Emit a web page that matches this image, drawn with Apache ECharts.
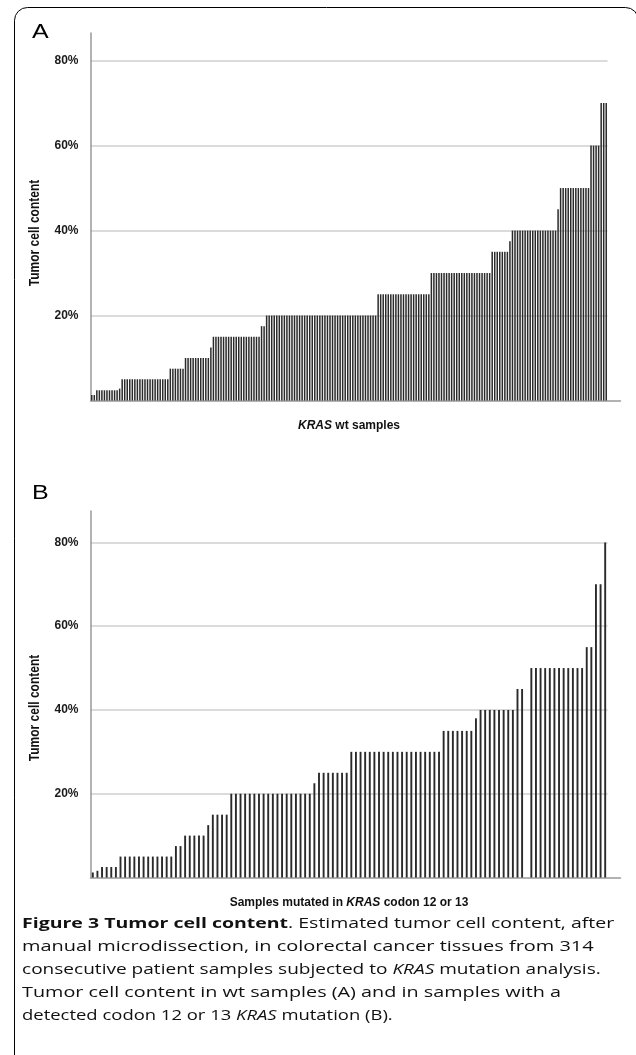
<!DOCTYPE html>
<html>
<head>
<meta charset="utf-8">
<script src="https://cdn.jsdelivr.net/npm/echarts@6/dist/echarts.min.js"></script>
<style>
html,body{margin:0;padding:0;background:#fff;}
#chart{width:636px;height:1055px;}
</style>
</head>
<body>
<div id="chart"></div>
<script>
// Panel A: tumor cell content (%) of KRAS wild-type samples, sorted ascending
const wtValues = [
  1.3, 1.3,
  2.4, 2.4, 2.4, 2.4, 2.4, 2.4, 2.4, 2.4, 2.4, 2.8,
  5, 5, 5, 5, 5, 5, 5, 5, 5, 5,
  5, 5, 5, 5, 5, 5, 5, 5, 5,
  7.5, 7.5, 7.5, 7.5, 7.5, 7.5,
  10, 10, 10, 10, 10, 10, 10, 10, 10, 10,
  12.5,
  15, 15, 15, 15, 15, 15, 15, 15, 15, 15,
  15, 15, 15, 15, 15, 15, 15, 15, 15,
  17.5, 17.5,
  20, 20, 20, 20, 20, 20, 20, 20, 20, 20,
  20, 20, 20, 20, 20, 20, 20, 20, 20, 20,
  20, 20, 20, 20, 20, 20, 20, 20, 20, 20,
  20, 20, 20, 20, 20, 20, 20, 20, 20, 20,
  20, 20, 20, 20,
  25, 25, 25, 25, 25, 25, 25, 25, 25, 25,
  25, 25, 25, 25, 25, 25, 25, 25, 25, 25,
  25,
  30, 30, 30, 30, 30, 30, 30, 30, 30, 30,
  30, 30, 30, 30, 30, 30, 30, 30, 30, 30,
  30, 30, 30, 30,
  35, 35, 35, 35, 35, 35, 35,
  37.5,
  40, 40, 40, 40, 40, 40, 40, 40, 40, 40,
  40, 40, 40, 40, 40, 40, 40, 40,
  45,
  50, 50, 50, 50, 50, 50, 50, 50, 50, 50,
  50, 50,
  60, 60, 60, 60,
  70, 70, 70
];

// Panel B: tumor cell content (%) of KRAS codon 12/13 mutated samples, sorted ascending
const mutValues = [
  1.2, 1.6,
  2.5, 2.5, 2.5, 2.5,
  5, 5, 5, 5, 5, 5, 5, 5, 5, 5, 5, 5,
  7.5, 7.5,
  10, 10, 10, 10, 10,
  12.5,
  15, 15, 15, 15,
  20, 20, 20, 20, 20, 20, 20, 20, 20, 20,
  20, 20, 20, 20, 20, 20, 20, 20,
  22.5,
  25, 25, 25, 25, 25, 25, 25,
  30, 30, 30, 30, 30, 30, 30, 30, 30, 30,
  30, 30, 30, 30, 30, 30, 30, 30, 30, 30,
  35, 35, 35, 35, 35, 35, 35,
  38,
  40, 40, 40, 40, 40, 40, 40, 40,
  45, 45,
  0,
  50, 50, 50, 50, 50, 50, 50, 50, 50, 50,
  50, 50,
  55, 55,
  70, 70,
  80
];

const wtCategories = wtValues.map((v, i) => 'wt ' + (i + 1));
const mutCategories = mutValues.map((v, i) => 'mut ' + (i + 1));
const yTickValues = [20, 40, 60, 80];

const panelLetters = ['A', 'B'];
const yTitle = 'Tumor cell content';
const xTitleA = '{i|KRAS} wt samples';
const xTitleB = 'Samples mutated in {i|KRAS} codon 12 or 13';
const captionLines = [
  '{b|Figure 3 Tumor cell content}. Estimated tumor cell content, after',
  'manual microdissection, in colorectal cancer tissues from 314',
  'consecutive patient samples subjected to {i|KRAS} mutation analysis.',
  'Tumor cell content in wt samples (A) and in samples with a',
  'detected codon 12 or 13 {i|KRAS} mutation (B).'
];
const captionStretch = [1.30, 1.33, 1.27, 1.32, 1.23];

const AX = '#999999';
const GRID = '#cfcfcf';
const BAR = '#2a2a2a';
const FONT = '"Liberation Sans", Arial, sans-serif';
const CAPFONT = '"Open Sans", "Noto Sans", sans-serif';

function yAxisMain(gridIndex, max) {
  return {
    gridIndex: gridIndex, type: 'value', min: 0, max: max, interval: 20,
    axisLine: {show: true, lineStyle: {color: AX, width: 1.5}},
    axisTick: {show: false},
    axisLabel: {
      show: true, margin: 12, color: '#1a1a1a', fontFamily: FONT, fontWeight: 'bold', fontSize: 12,
      showMinLabel: false, showMaxLabel: false,
      formatter: function (v) { return yTickValues.indexOf(v) >= 0 ? v + '%' : ''; }
    },
    splitLine: {show: true, showMinLine: false, showMaxLine: false, lineStyle: {color: GRID, width: 1.5}}
  };
}
function yAxisHidden(gridIndex, max) {
  return {gridIndex: gridIndex, type: 'value', min: 0, max: max, show: false, splitLine: {show: false}};
}
const nameStyle = {
  fontFamily: FONT, fontWeight: 'bold', fontSize: 12, color: '#111',
  rich: {i: {fontFamily: FONT, fontWeight: 'bold', fontStyle: 'italic', fontSize: 12, color: '#111'}}
};

const chart = echarts.init(document.getElementById('chart'), null, {renderer: 'canvas'});

const graphics = [
  {type: 'rect', silent: true, shape: {x: 14.5, y: 7.5, width: 624, height: 1200, r: 13},
   style: {fill: 'none', stroke: '#000', lineWidth: 1}},
  {type: 'text', silent: true, x: 32, y: 32, scaleX: 1.25,
   style: {text: panelLetters[0], font: '20px ' + FONT, fill: '#000', verticalAlign: 'middle', align: 'left'}},
  {type: 'text', silent: true, x: 32, y: 493, scaleX: 1.25,
   style: {text: panelLetters[1], font: '20px ' + FONT, fill: '#000', verticalAlign: 'middle', align: 'left'}},
  {type: 'text', silent: true, x: 35, y: 233, rotation: Math.PI / 2, scaleY: 1.2,
   style: {text: yTitle, font: 'bold 12px ' + FONT, fill: '#111', align: 'center', verticalAlign: 'middle'}},
  {type: 'text', silent: true, x: 35, y: 708, rotation: Math.PI / 2, scaleY: 1.2,
   style: {text: yTitle, font: 'bold 12px ' + FONT, fill: '#111', align: 'center', verticalAlign: 'middle'}}
];
captionLines.forEach(function (line, k) {
  graphics.push({
    type: 'text', silent: true, x: 22, y: 924 + k * 23, scaleX: captionStretch[k],
    style: {
      text: line, fontFamily: CAPFONT, fontSize: 15, fill: '#111', align: 'left', verticalAlign: 'middle',
      rich: {
        b: {fontFamily: CAPFONT, fontSize: 15, fontWeight: 'bold', fill: '#111'},
        i: {fontFamily: CAPFONT, fontSize: 15, fontStyle: 'italic', fill: '#111'}
      }
    }
  });
});

chart.setOption({
  animation: false,
  backgroundColor: '#fff',
  grid: [
    {left: 90.5, top: 33, width: 517, height: 367.5},
    {left: 90.5, top: 33, width: 530, height: 367.5},
    {left: 90.5, top: 511, width: 517, height: 366.5},
    {left: 90.5, top: 511, width: 530, height: 366.5}
  ],
  xAxis: [
    {gridIndex: 0, type: 'category', data: wtCategories,
     axisLine: {show: false}, axisTick: {show: false}, axisLabel: {show: false},
     name: xTitleA, nameLocation: 'middle', nameGap: 19, nameTextStyle: nameStyle},
    {gridIndex: 1, type: 'category', data: [''],
     axisLine: {show: true, lineStyle: {color: AX, width: 1.5}}, axisTick: {show: false}, axisLabel: {show: false}},
    {gridIndex: 2, type: 'category', data: mutCategories,
     axisLine: {show: false}, axisTick: {show: false}, axisLabel: {show: false},
     name: xTitleB, nameLocation: 'middle', nameGap: 19, nameTextStyle: nameStyle},
    {gridIndex: 3, type: 'category', data: [''],
     axisLine: {show: true, lineStyle: {color: AX, width: 1.5}}, axisTick: {show: false}, axisLabel: {show: false}}
  ],
  yAxis: [
    yAxisMain(0, 86.5),
    yAxisHidden(1, 86.5),
    yAxisMain(2, 87.5),
    yAxisHidden(3, 87.5)
  ],
  series: [
    {type: 'bar', xAxisIndex: 0, yAxisIndex: 0, data: wtValues, barWidth: 1.5,
     itemStyle: {color: BAR}, silent: true, z: 2},
    {type: 'bar', xAxisIndex: 2, yAxisIndex: 2, data: mutValues, barWidth: 1.9,
     itemStyle: {color: BAR}, silent: true, z: 2}
  ],
  graphic: graphics
});
</script>
</body>
</html>
